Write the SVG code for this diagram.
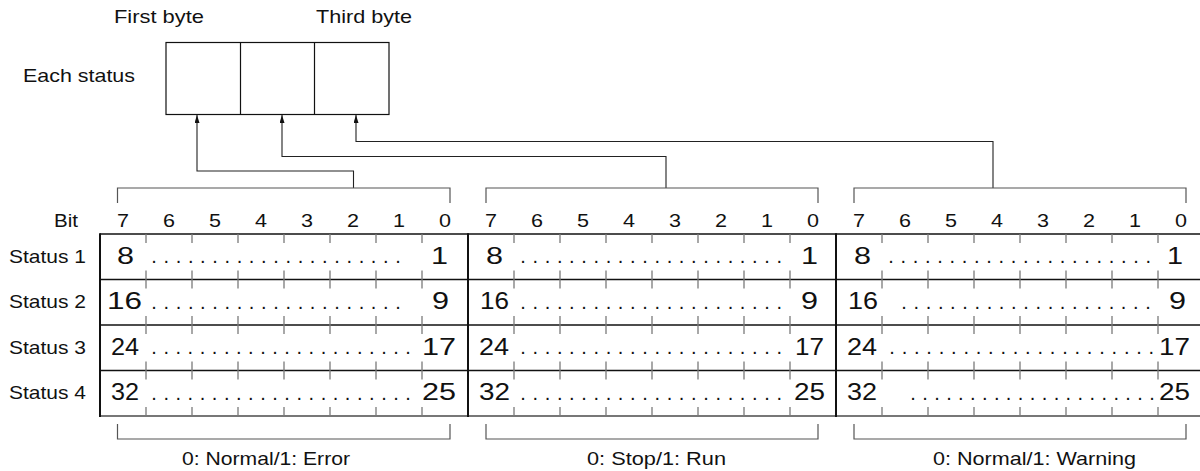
<svg xmlns="http://www.w3.org/2000/svg" width="1200" height="471" viewBox="0 0 1200 471">
<defs>
<style>
text{font-family:"Liberation Sans",Arial,sans-serif;fill:#111}
.lbl{font-size:18.5px}
.bit{font-size:19px}
.num{font-size:23.5px}
.dots{font-size:20px}
.box{fill:none;stroke:#111;stroke-width:1.2}
.con{fill:none;stroke:#222;stroke-width:1.1}
.brk{fill:none;stroke:#555;stroke-width:1.2}
.tick{fill:none;stroke:#7a7a7a;stroke-width:1.3}
.row{stroke:#111;stroke-width:1.6}
.bot{stroke:#777;stroke-width:2.2}
.vb{stroke:#111;stroke-width:2}
</style>
<marker id="arr" viewBox="0 0 8 5" refX="8" refY="2.5" markerWidth="8" markerHeight="5" markerUnits="userSpaceOnUse" orient="auto"><path d="M0,0 L8,2.5 L0,5 z" fill="#111"/></marker>
</defs>
<rect width="1200" height="471" fill="#fff"/>

<g id="status-box">
<text class="lbl" x="114" y="23" textLength="90" lengthAdjust="spacingAndGlyphs">First byte</text>
<text class="lbl" x="316" y="23" textLength="96" lengthAdjust="spacingAndGlyphs">Third byte</text>
<text class="lbl" x="23" y="82" textLength="112" lengthAdjust="spacingAndGlyphs">Each status</text>
<rect class="box" x="166" y="42.5" width="223" height="72"/>
<line class="box" x1="240.5" y1="42.5" x2="240.5" y2="114.5"/>
<line class="box" x1="314.5" y1="42.5" x2="314.5" y2="114.5"/>
</g>

<g id="connectors">
<path class="con" d="M353.5,188 V171 H197 V115" marker-end="url(#arr)"/>
<path class="con" d="M666,188 V156.5 H282 V115" marker-end="url(#arr)"/>
<path class="con" d="M993,188 V141.5 H356 V115" marker-end="url(#arr)"/>
</g>

<g id="brackets">
<path class="brk" d="M117.5,203 V188 H450 V203"/>
<path class="brk" d="M486,203 V188 H818 V203"/>
<path class="brk" d="M854,203 V188 H1186 V203"/>
<path class="brk" d="M117.5,424 V439 H450 V424"/>
<path class="brk" d="M486,424 V439 H818 V424"/>
<path class="brk" d="M854,424 V439 H1186 V424"/>
<text class="lbl" x="182" y="465" textLength="168" lengthAdjust="spacingAndGlyphs">0: Normal/1: Error</text>
<text class="lbl" x="587" y="465" textLength="139" lengthAdjust="spacingAndGlyphs">0: Stop/1: Run</text>
<text class="lbl" x="933" y="465" textLength="203" lengthAdjust="spacingAndGlyphs">0: Normal/1: Warning</text>
</g>

<g id="row-labels">
<text class="lbl" x="54" y="227" textLength="24" lengthAdjust="spacingAndGlyphs">Bit</text>
<text class="lbl" x="9" y="262.5" textLength="77" lengthAdjust="spacingAndGlyphs">Status 1</text>
<text class="lbl" x="9" y="308" textLength="77" lengthAdjust="spacingAndGlyphs">Status 2</text>
<text class="lbl" x="9" y="353.5" textLength="77" lengthAdjust="spacingAndGlyphs">Status 3</text>
<text class="lbl" x="9" y="399" textLength="77" lengthAdjust="spacingAndGlyphs">Status 4</text>
</g>

<g id="grid">
<line class="row" x1="100" y1="234" x2="1200" y2="234"/>
<line class="row" x1="100" y1="279.5" x2="1200" y2="279.5"/>
<line class="row" x1="100" y1="325" x2="1200" y2="325"/>
<line class="row" x1="100" y1="370.5" x2="1200" y2="370.5"/>
<line class="bot" x1="100" y1="416" x2="1200" y2="416"/>
<line class="vb" x1="100" y1="233.2" x2="100" y2="417"/>
<line class="vb" x1="468" y1="233.2" x2="468" y2="417"/>
<line class="vb" x1="836" y1="233.2" x2="836" y2="417"/>
<path class="tick" d="M146,234V243M146,270.5V288.5M146,316V334M146,361.5V379.5M146,407V416
M192,234V243M192,270.5V288.5M192,316V334M192,361.5V379.5M192,407V416
M238,234V243M238,270.5V288.5M238,316V334M238,361.5V379.5M238,407V416
M284,234V243M284,270.5V288.5M284,316V334M284,361.5V379.5M284,407V416
M330,234V243M330,270.5V288.5M330,316V334M330,361.5V379.5M330,407V416
M376,234V243M376,270.5V288.5M376,316V334M376,361.5V379.5M376,407V416
M422,234V243M422,270.5V288.5M422,316V334M422,361.5V379.5M422,407V416
M514,234V243M514,270.5V288.5M514,316V334M514,361.5V379.5M514,407V416
M560,234V243M560,270.5V288.5M560,316V334M560,361.5V379.5M560,407V416
M606,234V243M606,270.5V288.5M606,316V334M606,361.5V379.5M606,407V416
M652,234V243M652,270.5V288.5M652,316V334M652,361.5V379.5M652,407V416
M698,234V243M698,270.5V288.5M698,316V334M698,361.5V379.5M698,407V416
M744,234V243M744,270.5V288.5M744,316V334M744,361.5V379.5M744,407V416
M790,234V243M790,270.5V288.5M790,316V334M790,361.5V379.5M790,407V416
M882,234V243M882,270.5V288.5M882,316V334M882,361.5V379.5M882,407V416
M928,234V243M928,270.5V288.5M928,316V334M928,361.5V379.5M928,407V416
M974,234V243M974,270.5V288.5M974,316V334M974,361.5V379.5M974,407V416
M1020,234V243M1020,270.5V288.5M1020,316V334M1020,361.5V379.5M1020,407V416
M1066,234V243M1066,270.5V288.5M1066,316V334M1066,361.5V379.5M1066,407V416
M1112,234V243M1112,270.5V288.5M1112,316V334M1112,361.5V379.5M1112,407V416
M1158,234V243M1158,270.5V288.5M1158,316V334M1158,361.5V379.5M1158,407V416"/>
</g>

<g id="table-1">
<g class="bit">
<text x="117" y="227" textLength="12" lengthAdjust="spacingAndGlyphs">7</text>
<text x="163" y="227" textLength="12" lengthAdjust="spacingAndGlyphs">6</text>
<text x="209" y="227" textLength="12" lengthAdjust="spacingAndGlyphs">5</text>
<text x="255" y="227" textLength="12" lengthAdjust="spacingAndGlyphs">4</text>
<text x="301" y="227" textLength="12" lengthAdjust="spacingAndGlyphs">3</text>
<text x="347" y="227" textLength="12" lengthAdjust="spacingAndGlyphs">2</text>
<text x="393" y="227" textLength="12" lengthAdjust="spacingAndGlyphs">1</text>
<text x="439" y="227" textLength="12" lengthAdjust="spacingAndGlyphs">0</text>
</g>
<g class="num">
<text x="117" y="263.5" textLength="17" lengthAdjust="spacingAndGlyphs">8</text>
<text x="431" y="263.5" textLength="17" lengthAdjust="spacingAndGlyphs">1</text>
<text x="107" y="309" textLength="35" lengthAdjust="spacingAndGlyphs">16</text>
<text x="432" y="309" textLength="17" lengthAdjust="spacingAndGlyphs">9</text>
<text x="111" y="354.5" textLength="28" lengthAdjust="spacingAndGlyphs">24</text>
<text x="422" y="354.5" textLength="34" lengthAdjust="spacingAndGlyphs">17</text>
<text x="111" y="400" textLength="28" lengthAdjust="spacingAndGlyphs">32</text>
<text x="422" y="400" textLength="34" lengthAdjust="spacingAndGlyphs">25</text>
</g>
<g class="dots">
<text x="151.3" y="263" letter-spacing="6.64">.....................</text>
<text x="151.3" y="308.5" letter-spacing="6.64">.....................</text>
<text x="151.3" y="354" letter-spacing="6.54">......................</text>
<text x="151.3" y="399.5" letter-spacing="6.54">......................</text>
</g>
</g>

<g id="table-2">
<g class="bit">
<text x="485" y="227" textLength="12" lengthAdjust="spacingAndGlyphs">7</text>
<text x="531" y="227" textLength="12" lengthAdjust="spacingAndGlyphs">6</text>
<text x="577" y="227" textLength="12" lengthAdjust="spacingAndGlyphs">5</text>
<text x="623" y="227" textLength="12" lengthAdjust="spacingAndGlyphs">4</text>
<text x="669" y="227" textLength="12" lengthAdjust="spacingAndGlyphs">3</text>
<text x="715" y="227" textLength="12" lengthAdjust="spacingAndGlyphs">2</text>
<text x="761" y="227" textLength="12" lengthAdjust="spacingAndGlyphs">1</text>
<text x="807" y="227" textLength="12" lengthAdjust="spacingAndGlyphs">0</text>
</g>
<g class="num">
<text x="486" y="263.5" textLength="17" lengthAdjust="spacingAndGlyphs">8</text>
<text x="801" y="263.5" textLength="17" lengthAdjust="spacingAndGlyphs">1</text>
<text x="480" y="309" textLength="29" lengthAdjust="spacingAndGlyphs">16</text>
<text x="801" y="309" textLength="17" lengthAdjust="spacingAndGlyphs">9</text>
<text x="479" y="354.5" textLength="30" lengthAdjust="spacingAndGlyphs">24</text>
<text x="795" y="354.5" textLength="29" lengthAdjust="spacingAndGlyphs">17</text>
<text x="479" y="400" textLength="31" lengthAdjust="spacingAndGlyphs">32</text>
<text x="794" y="400" textLength="31" lengthAdjust="spacingAndGlyphs">25</text>
</g>
<g class="dots">
<text x="520.3" y="263" letter-spacing="6.64">......................</text>
<text x="520.3" y="308.5" letter-spacing="6.64">......................</text>
<text x="520.3" y="354" letter-spacing="6.64">......................</text>
<text x="520.3" y="399.5" letter-spacing="6.64">......................</text>
</g>
</g>

<g id="table-3">
<g class="bit">
<text x="853" y="227" textLength="12" lengthAdjust="spacingAndGlyphs">7</text>
<text x="899" y="227" textLength="12" lengthAdjust="spacingAndGlyphs">6</text>
<text x="945" y="227" textLength="12" lengthAdjust="spacingAndGlyphs">5</text>
<text x="991" y="227" textLength="12" lengthAdjust="spacingAndGlyphs">4</text>
<text x="1037" y="227" textLength="12" lengthAdjust="spacingAndGlyphs">3</text>
<text x="1083" y="227" textLength="12" lengthAdjust="spacingAndGlyphs">2</text>
<text x="1129" y="227" textLength="12" lengthAdjust="spacingAndGlyphs">1</text>
<text x="1175" y="227" textLength="12" lengthAdjust="spacingAndGlyphs">0</text>
</g>
<g class="num">
<text x="854" y="263.5" textLength="17" lengthAdjust="spacingAndGlyphs">8</text>
<text x="1167" y="263.5" textLength="16" lengthAdjust="spacingAndGlyphs">1</text>
<text x="848" y="309" textLength="30" lengthAdjust="spacingAndGlyphs">16</text>
<text x="1169" y="309" textLength="17" lengthAdjust="spacingAndGlyphs">9</text>
<text x="847" y="354.5" textLength="30" lengthAdjust="spacingAndGlyphs">24</text>
<text x="1159" y="354.5" textLength="31" lengthAdjust="spacingAndGlyphs">17</text>
<text x="847" y="400" textLength="30" lengthAdjust="spacingAndGlyphs">32</text>
<text x="1159" y="400" textLength="31" lengthAdjust="spacingAndGlyphs">25</text>
</g>
<g class="dots">
<text x="888.3" y="263" letter-spacing="6.69">......................</text>
<text x="901.3" y="308.5" letter-spacing="6.64">.....................</text>
<text x="889.3" y="354" letter-spacing="6.79">......................</text>
<text x="910.3" y="399.5" letter-spacing="6.39">.....................</text>
</g>
</g>
</svg>
